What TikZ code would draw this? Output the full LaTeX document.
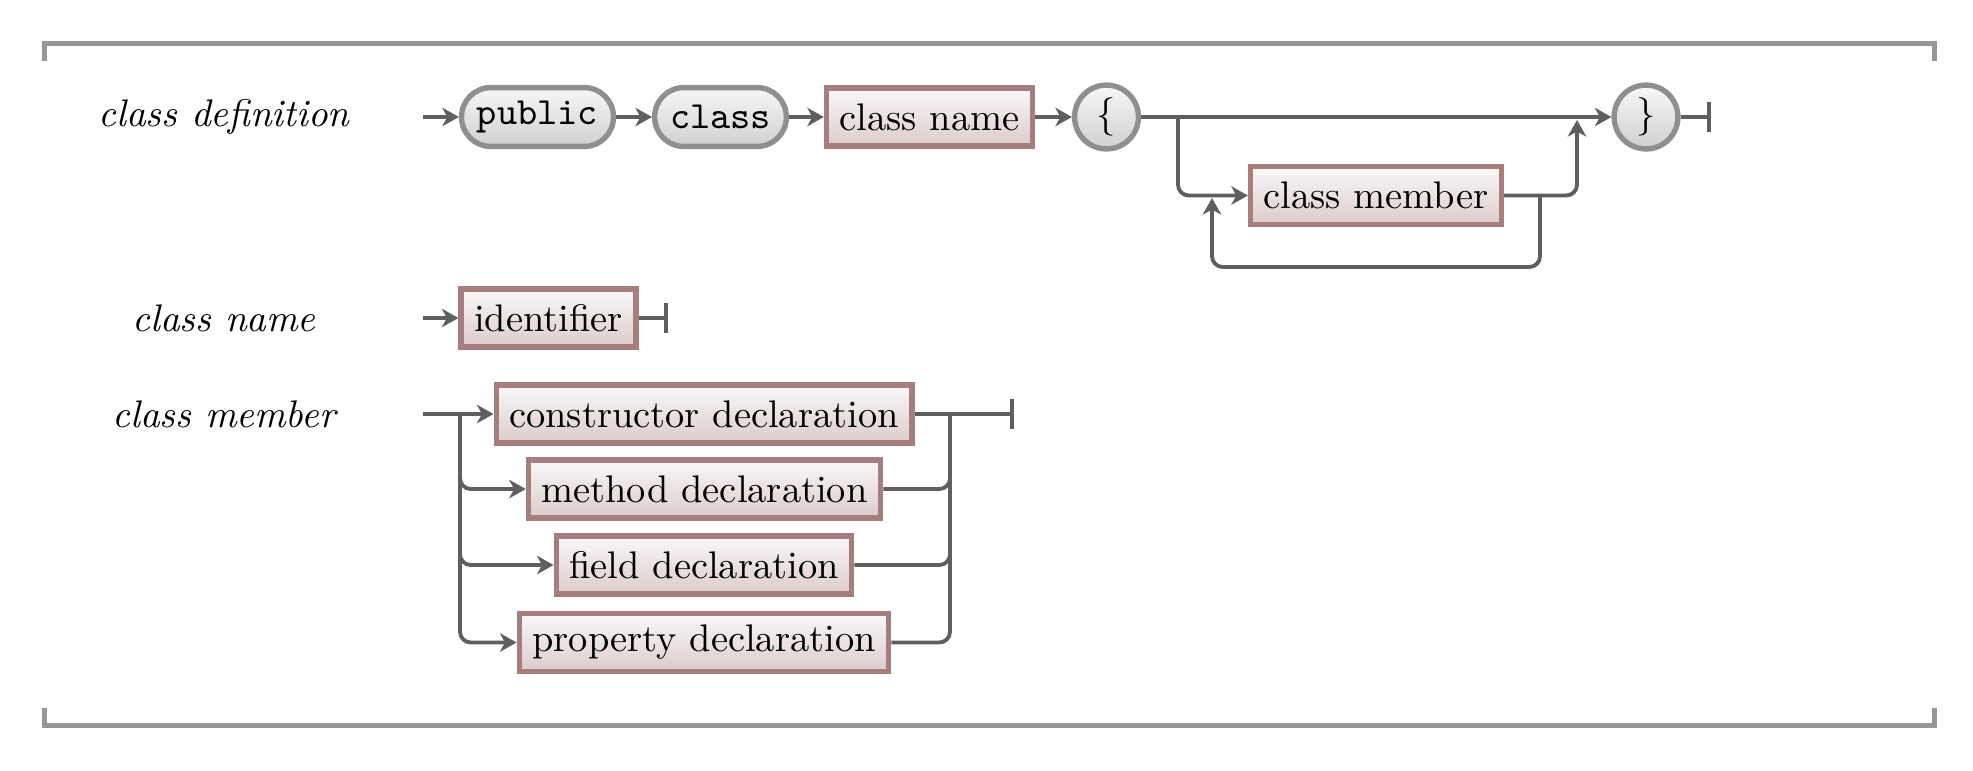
\documentclass[tikz,border=0pt]{standalone}
\usetikzlibrary{arrows.meta}
\definecolor{conncol}{HTML}{5F5F5F}
\definecolor{framecol}{HTML}{979797}
\definecolor{ntborder}{HTML}{A67E7E}
\definecolor{nttop}{HTML}{FAF8F8}
\definecolor{ntbot}{HTML}{DCCBCB}
\definecolor{tborder}{HTML}{8F8F8F}
\definecolor{ttop}{HTML}{F7F7F7}
\definecolor{tbot}{HTML}{D0D0D0}
\begin{document}
\begin{tikzpicture}[x=0.26pt,y=-0.26pt,
  nonterm/.style={draw=ntborder, line width=1.4pt, top color=nttop, bottom color=ntbot,
    rectangle, minimum height=15.1pt, inner xsep=3.4pt, inner ysep=0pt},
  termbox/.style={draw=tborder, line width=1.4pt, top color=ttop, bottom color=tbot,
    rectangle, rounded corners=7.6pt, minimum height=15.3pt, inner xsep=4pt, inner ysep=0pt,
    font=\ttfamily},
  termcirc/.style={draw=tborder, line width=1.4pt, top color=ttop, bottom color=tbot,
    circle, minimum size=16.6pt, inner sep=0pt},
  rulename/.style={font=\itshape},
  arr/.style={draw=conncol, line width=1pt, rounded corners=2.8pt,
    -{Stealth[length=4.3pt,width=4.8pt,inset=1.3pt]}},
  plainline/.style={draw=conncol, line width=1pt, rounded corners=2.8pt},
  endline/.style={draw=conncol, line width=1pt, -{Bar[width=7.7pt]}},
  framepath/.style={draw=framecol, line width=1.3pt}
]
\useasboundingbox (0,0) rectangle (1973,770);
% frame
\draw[framepath] (44,61) -- (44,43.5) -- (1934,43.5) -- (1934,61);
\draw[framepath] (44,708) -- (44,725.5) -- (1934,725.5) -- (1934,708);

% row 1: class definition
\node[rulename] (l1) at (224,117) {class definition};
\node[termbox] (public) at (537.5,117) {public};
\node[termbox] (class) at (720.5,117) {class};
\node[nonterm] (cname) at (929.5,117) {class name};
\node[termcirc] (lb) at (1106.5,117) {\{};
\node[termcirc] (rb) at (1646,117) {\}};
\node[nonterm] (cmem) at (1376,195.5) {class member};
\coordinate (s1) at (423,117);
\coordinate (b1) at (1178,117);
\coordinate (j1) at (1577,120);
\coordinate (e1) at (1711,117);
\coordinate (lp1) at (1540,195.5);
\coordinate (lpa) at (1540,267);
\coordinate (lpb) at (1212,267);
\coordinate (lp2) at (1212,198);
\draw[arr] (s1) -- (public);
\draw[arr] (public) -- (class);
\draw[arr] (class) -- (cname);
\draw[arr] (cname) -- (lb);
\draw[arr] (lb) -- (rb);
\draw[arr] (b1) |- (cmem);
\draw[arr] (cmem) -| (j1);
\draw[arr] (lp1) -- (lpa) -- (lpb) -- (lp2);
\draw[endline] (rb) -- (e1);

% row 2: class name
\node[rulename] (l2) at (224,318) {class name};
\node[nonterm] (ident) at (548.5,318) {identifier};
\coordinate (s2) at (423,318);
\coordinate (e2) at (668,318);
\draw[arr] (s2) -- (ident);
\draw[endline] (ident) -- (e2);

% row 3: class member
\node[rulename] (l3) at (224,414) {class member};
\node[nonterm] (ctor) at (704,414) {constructor declaration};
\node[nonterm] (meth) at (704.5,489) {method declaration};
\node[nonterm] (field) at (704,565) {field declaration};
\node[nonterm] (prop) at (704,642.5) {property declaration};
\coordinate (s3) at (423,414);
\coordinate (b3) at (460,414);
\coordinate (j3) at (950,414);
\coordinate (e3) at (1014,414);
\draw[arr] (s3) -- (ctor);
\draw[arr] (b3) |- (meth);
\draw[arr] (b3) |- (field);
\draw[arr] (b3) |- (prop);
\draw[plainline] (meth) -| (j3);
\draw[plainline] (field) -| (j3);
\draw[plainline] (prop) -| (j3);
\draw[endline] (ctor) -- (e3);
\end{tikzpicture}
\end{document}
